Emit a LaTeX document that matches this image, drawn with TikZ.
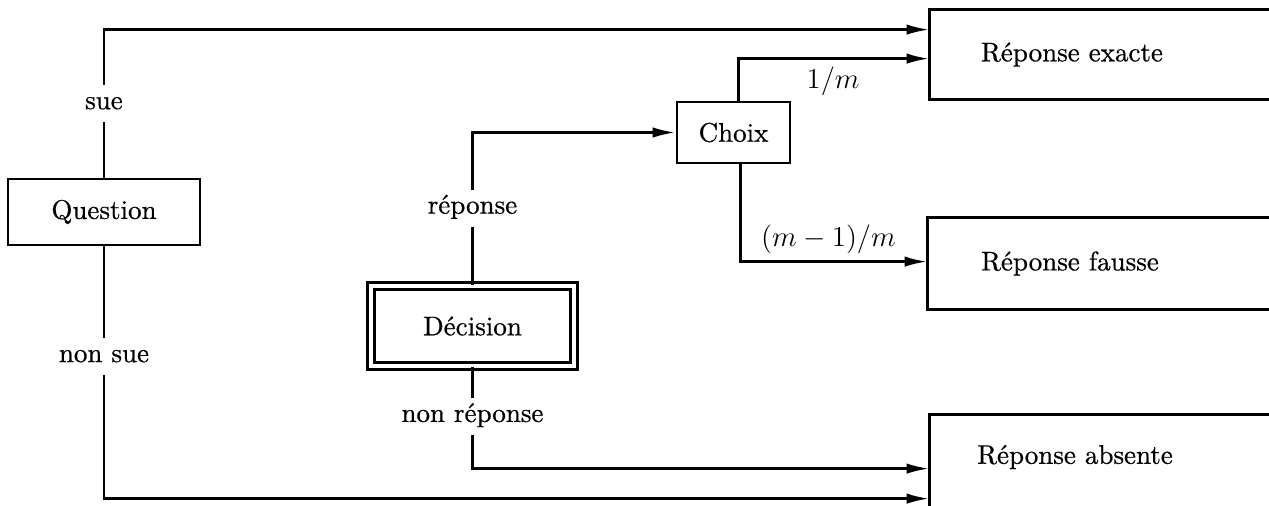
\documentclass[tikz,border=0pt]{standalone}
\usepackage{fontspec}
\setmainfont{lmroman10-regular.otf}[FakeBold=0.6]
\usetikzlibrary{arrows.meta,calc}
\begin{document}
\begin{tikzpicture}[x=0.5pt,y=-0.5pt,
  every node/.style={font=\fontsize{13.5pt}{16pt}\selectfont},
  conn/.style={line width=1.4pt},
  arr/.style={conn,-{Latex[length=11.5pt,width=5.2pt]}},
  box/.style={draw,line width=1.3pt,inner sep=0pt},
  openbox/.style={inner sep=0pt},
  lbl/.style={fill=white,inner xsep=2pt,inner ysep=4pt,text height=8pt,text depth=2.5pt}]
\useasboundingbox (0,0) rectangle (1269,505);
\clip (0,0) rectangle (1269,505);
% nodes
\node[box,minimum width=96pt,minimum height=33pt] (q) at (104,212) {Question};
\node[box,double,double distance=2.2pt,minimum width=101.25pt,minimum height=40pt] (d) at (472.5,326) {D\'ecision};
\node[box,minimum width=56.5pt,minimum height=30.5pt] (ch) at (733.5,132.5) {Choix};
\node[openbox,minimum width=142pt,minimum height=44.5pt] (re) at (1072,54.5) {R\'eponse exacte};
\node[openbox,minimum width=142pt,minimum height=45.5pt] (rf) at (1070,263.5) {R\'eponse fausse};
\node[openbox,minimum width=145pt,minimum height=42pt] (ra) at (1075,457) {R\'eponse absente};
% open boxes (cut by the page edge)
\draw[conn] ($(re.north west)+(400,0)$) -- (re.north west) -- (re.south west) -- ($(re.south west)+(400,0)$);
\draw[conn] ($(rf.north west)+(400,0)$) -- (rf.north west) -- (rf.south west) -- ($(rf.south west)+(400,0)$);
\draw[conn] ($(ra.north west)+(400,0)$) -- (ra.north west) -- ($(ra.north west)+(0,200)$);
% connectors
\coordinate (reA) at ($(re.north west)+(0,20)$);
\coordinate (reB) at ($(re.north west)+(0,49)$);
\coordinate (raA) at ($(ra.north west)+(0,54)$);
\coordinate (raB) at ($(ra.north west)+(0,84)$);
\coordinate (rfA) at ($(rf.north west)+(0,44)$);
\draw[arr] (q.north) -- node[lbl,pos=0.5]{sue} (q.north |- reA) -- (reA);
\draw[arr] (q.south) -- node[lbl,pos=0.437]{non sue} (q.south |- raB) -- (raB);
\draw[arr] (d.north) -- node[lbl,pos=0.503]{r\'eponse} (d.north |- ch.west) -- (ch.west);
\draw[arr] (d.south) -- node[lbl,pos=0.485]{non r\'eponse} (d.south |- raA) -- (raA);
\draw[arr] ([xshift=2.5pt]ch.north) -- ([xshift=2.5pt]ch.north |- reB) -- node[below=0pt,pos=0.495]{$1/m$} (reB);
\draw[arr] ([xshift=3.5pt]ch.south) -- ([xshift=3.5pt]ch.south |- rfA) -- node[above=0pt,pos=0.47]{$(m-1)/m$} (rfA);
\end{tikzpicture}
\end{document}
